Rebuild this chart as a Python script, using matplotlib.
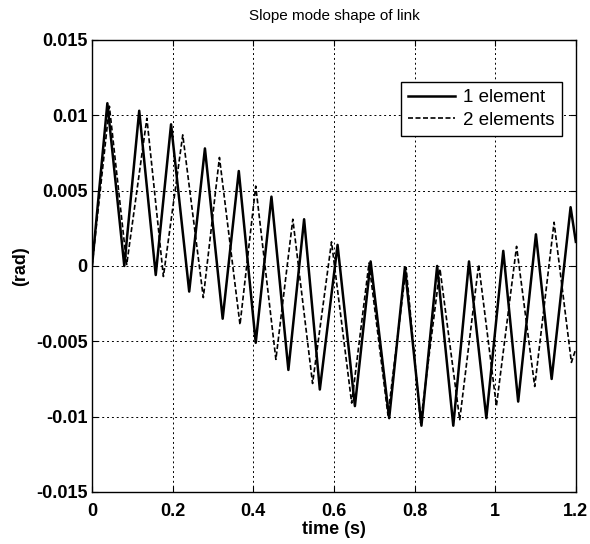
import numpy as np
import matplotlib
matplotlib.use('Agg')
import matplotlib.pyplot as plt

plt.rcParams['font.family'] = ['Liberation Sans', 'DejaVu Sans']

# 1 element: peaks and troughs
t_one = [0.0, 0.038, 0.080, 0.117, 0.158, 0.196, 0.241, 0.280, 0.324, 0.364,
         0.406, 0.445, 0.487, 0.526, 0.565, 0.609, 0.652, 0.691, 0.737, 0.776,
         0.817, 0.856, 0.896, 0.935, 0.978, 1.020, 1.057, 1.101, 1.140, 1.187, 1.2]
y_one = [0.0, 0.0108, 0.0, 0.0103, -0.0006, 0.0094, -0.0017, 0.0078, -0.0035, 0.0063,
         -0.0051, 0.0046, -0.0069, 0.0031, -0.0082, 0.0014, -0.0093, 0.0003, -0.0101, -0.0001,
         -0.0106, 0.0, -0.0106, 0.0003, -0.0101, 0.0010, -0.0090, 0.0021, -0.0075, 0.0039, 0.0016]

# 2 elements
t_two = [0.0, 0.043, 0.086, 0.136, 0.177, 0.225, 0.276, 0.316, 0.367, 0.406,
         0.456, 0.498, 0.547, 0.594, 0.644, 0.687, 0.734, 0.779, 0.815, 0.863,
         0.912, 0.959, 1.003, 1.053, 1.098, 1.146, 1.189, 1.2]
y_two = [0.0, 0.0106, 0.0001, 0.0098, -0.0007, 0.0087, -0.0021, 0.0072, -0.0039, 0.0053,
         -0.0062, 0.0031, -0.0078, 0.0016, -0.0091, 0.0002, -0.0099, -0.0001, -0.0104, -0.0002,
         -0.0102, 0.0001, -0.0093, 0.0013, -0.0080, 0.0029, -0.0064, -0.0055]

x_ticks = [0, 0.2, 0.4, 0.6, 0.8, 1.0, 1.2]
x_labels = ['0', '0.2', '0.4', '0.6', '0.8', '1', '1.2']
y_ticks = [-0.015, -0.01, -0.005, 0, 0.005, 0.01, 0.015]
y_labels = ['-0.015', '-0.01', '-0.005', '0', '0.005', '0.01', '0.015']

fig = plt.figure(figsize=(5.9, 5.44), dpi=100)
ax = fig.add_axes([0.156, 0.0956, 0.82, 0.831])

ax.plot(t_one, y_one, color='black', linewidth=1.8, label='1 element', zorder=3,
        solid_joinstyle='round')
ax.plot(t_two, y_two, color='black', linewidth=1.2, linestyle=(0, (3, 1.5)),
        label='2 elements', zorder=3, dash_joinstyle='round')

ax.set_xlim(0, 1.2)
ax.set_ylim(-0.015, 0.015)
ax.set_xticks(x_ticks)
ax.set_xticklabels(x_labels, fontsize=13, fontweight='bold')
ax.set_yticks(y_ticks)
ax.set_yticklabels(y_labels, fontsize=13, fontweight='bold')
ax.tick_params(direction='in', top=True, right=True, length=4, width=0.8)
ax.tick_params(axis='x', pad=8)
ax.tick_params(axis='y', pad=3)
ax.grid(True, color='black', linestyle=(0, (2, 3)), linewidth=0.7)
for s in ax.spines.values():
    s.set_linewidth(1.0)

ax.set_title('Slope mode shape of link', fontsize=11, pad=14)
ax.set_xlabel('time (s)', fontsize=13, fontweight='bold', labelpad=1)
ax.set_ylabel('(rad)', fontsize=13, fontweight='bold', labelpad=5)

leg = ax.legend(loc='upper right', bbox_to_anchor=(0.971, 0.908), fontsize=13.5,
                fancybox=False, framealpha=1, edgecolor='black', handlelength=2.5,
                borderpad=0.4, labelspacing=0.3, handletextpad=0.4, borderaxespad=0)
leg.get_frame().set_linewidth(1.0)

fig.savefig('out.png', dpi=100)
